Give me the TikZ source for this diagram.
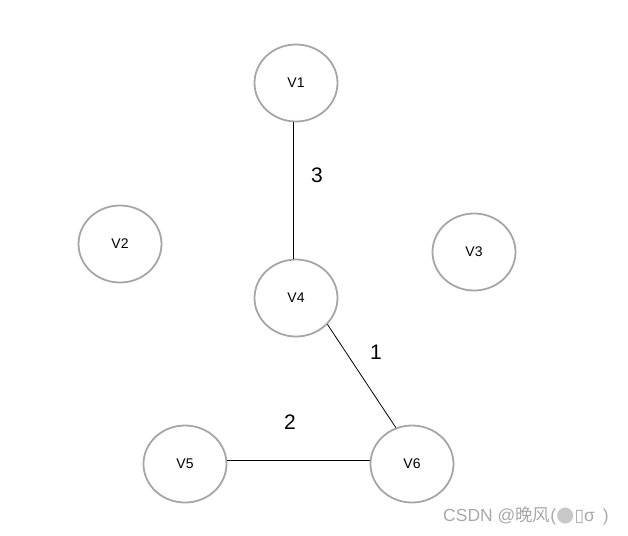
\documentclass[tikz,border=0pt]{standalone}
\usepackage{fontspec}
\setmainfont{Liberation Sans}
\newfontfamily\cjkfont{Noto Sans CJK SC}
\newfontfamily\symfont{DejaVu Sans}
\usetikzlibrary{shapes.geometric}
\definecolor{ringgray}{HTML}{A6A6A6}
\definecolor{markgray}{HTML}{A8A8A8}
\definecolor{dotgray}{HTML}{C8C8C8}
\tikzset{
  vert/.style={ellipse, draw=ringgray, line width=1.8pt, minimum width=83pt, minimum height=77pt, inner sep=0pt, font=\fontsize{14}{16}\selectfont},
  edge/.style={draw=black, line width=0.8pt},
  wlabel/.style={font=\fontsize{21}{24}\selectfont},
}
\begin{document}
\begin{tikzpicture}[x=1pt,y=-1pt]
\useasboundingbox (0,0) rectangle (628,535);
\node[vert] (v1) at (296,83) {V1};
\node[vert] (v2) at (120,244) {V2};
\node[vert] (v3) at (474,252) {V3};
\node[vert] (v4) at (296,298) {V4};
\node[vert] (v5) at (185,464) {V5};
\node[vert] (v6) at (412,464) {V6};
\draw[edge] ([xshift=-2.7pt]v1.south) -- ([xshift=-2.7pt]v4.north);
\draw[edge] (v4.-40) -- (v6.114);
\draw[edge] ([yshift=3.5pt]v5.east) -- ([yshift=3.5pt]v6.west);
\node[wlabel] (l3) at (317,175) {3};
\node[wlabel] (l1) at (376,352) {1};
\node[wlabel] (l2) at (290,422) {2};
\node[anchor=west, text=markgray, font=\fontsize{17.5}{19}\selectfont, inner sep=0pt] (wm) at (443,516) {CSDN @{\cjkfont 晚风}({\symfont\textcolor{dotgray}{\fontsize{21}{21}\selectfont ●}▯}σ\, )};
\end{tikzpicture}
\end{document}
